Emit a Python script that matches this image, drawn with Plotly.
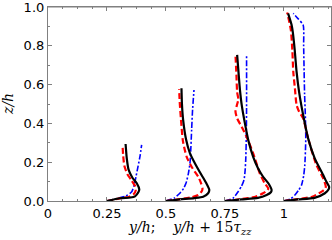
import plotly.graph_objects as go

# Station 1 (base y/h = 0.25)
s1_black_x = [0.25, 0.305, 0.35, 0.369, 0.383, 0.387, 0.377, 0.358, 0.342, 0.334, 0.329]
s1_black_z = [0.0, 0.014, 0.018, 0.024, 0.045, 0.060, 0.090, 0.120, 0.160, 0.220, 0.294]
s1_red_x = [0.25, 0.30, 0.345, 0.363, 0.372, 0.370, 0.352, 0.336, 0.324, 0.319, 0.316]
s1_red_z = [0.0, 0.012, 0.022, 0.035, 0.055, 0.075, 0.110, 0.140, 0.180, 0.230, 0.289]
s1_blue_x = [0.25, 0.29, 0.33, 0.355, 0.365, 0.373, 0.382, 0.390, 0.397]
s1_blue_z = [0.0, 0.012, 0.025, 0.048, 0.080, 0.125, 0.180, 0.230, 0.289]

# Station 2 (base 0.5)
s2_black_x = [0.5, 0.56, 0.62, 0.658, 0.679, 0.684, 0.672, 0.651, 0.625, 0.602, 0.585, 0.573, 0.568, 0.566]
s2_black_z = [0.0, 0.008, 0.015, 0.022, 0.040, 0.057, 0.090, 0.134, 0.190, 0.246, 0.320, 0.418, 0.500, 0.581]
s2_red_x = [0.5, 0.56, 0.61, 0.637, 0.652, 0.655, 0.648, 0.637, 0.612, 0.588, 0.572, 0.564, 0.559, 0.556]
s2_red_z = [0.0, 0.010, 0.020, 0.031, 0.050, 0.065, 0.095, 0.125, 0.170, 0.228, 0.310, 0.418, 0.500, 0.576]
s2_blue_x = [0.5, 0.535, 0.559, 0.575, 0.585, 0.595, 0.602, 0.606, 0.609, 0.613, 0.619]
s2_blue_z = [0.0, 0.015, 0.040, 0.065, 0.091, 0.140, 0.194, 0.280, 0.366, 0.470, 0.572]

# Station 3 (base 0.75)
s3_black_x = [0.75, 0.82, 0.89, 0.927, 0.945, 0.948, 0.935, 0.912, 0.890, 0.870, 0.850, 0.835, 0.822, 0.814, 0.808, 0.802]
s3_black_z = [0.0, 0.008, 0.016, 0.031, 0.045, 0.057, 0.090, 0.125, 0.170, 0.228, 0.310, 0.400, 0.490, 0.572, 0.660, 0.753]
s3_red_x = [0.75, 0.82, 0.88, 0.912, 0.930, 0.934, 0.919, 0.898, 0.870, 0.842, 0.821, 0.802, 0.795, 0.800, 0.807, 0.802, 0.799, 0.795]
s3_red_z = [0.0, 0.010, 0.022, 0.040, 0.055, 0.065, 0.091, 0.143, 0.246, 0.331, 0.383, 0.426, 0.460, 0.490, 0.525, 0.560, 0.650, 0.753]
s3_blue_x = [0.75, 0.785, 0.806, 0.820, 0.831, 0.836, 0.839, 0.841, 0.842, 0.842]
s3_blue_z = [0.0, 0.015, 0.048, 0.075, 0.108, 0.160, 0.228, 0.350, 0.486, 0.753]

# Station 4 (base 1.0)
s4_black_x = [1.0, 1.06, 1.13, 1.174, 1.190, 1.192, 1.180, 1.167, 1.131, 1.103, 1.082, 1.065, 1.054, 1.046, 1.038, 1.033, 1.018]
s4_black_z = [0.0, 0.008, 0.016, 0.040, 0.060, 0.074, 0.100, 0.134, 0.220, 0.323, 0.443, 0.560, 0.667, 0.780, 0.870, 0.907, 0.967]
s4_red_x = [1.0, 1.06, 1.12, 1.160, 1.175, 1.178, 1.167, 1.138, 1.103, 1.082, 1.065, 1.054, 1.047, 1.040, 1.036, 1.030, 1.022, 1.014]
s4_red_z = [0.0, 0.010, 0.022, 0.048, 0.063, 0.074, 0.117, 0.186, 0.323, 0.426, 0.460, 0.495, 0.580, 0.667, 0.780, 0.880, 0.930, 0.972]
s4_blue_x = [1.0, 1.03, 1.047, 1.062, 1.075, 1.084, 1.089, 1.093, 1.091, 1.088, 1.086, 1.084, 1.082, 1.060, 1.040]
s4_blue_z = [0.0, 0.012, 0.031, 0.055, 0.082, 0.130, 0.186, 0.323, 0.450, 0.550, 0.667, 0.800, 0.907, 0.940, 0.967]

x_tickvals = [0, 0.25, 0.5, 0.75, 1.0]
x_ticktext = ["0", "0.25", "0.5", "0.75", "1"]
y_tickvals = [0.0, 0.2, 0.4, 0.6, 0.8, 1.0]
y_ticktext = ["0.0", "0.2", "0.4", "0.6", "0.8", "1.0"]

x_title = "<i>y/h</i>;    <i>y/h</i> + 15<i>τ<sub>zz</sub></i>"
y_title = "<i>z/h</i>"

fig = go.Figure()

series = [
    (s1_blue_x, s1_blue_z, "blue"), (s1_red_x, s1_red_z, "red"), (s1_black_x, s1_black_z, "black"),
    (s2_blue_x, s2_blue_z, "blue"), (s2_red_x, s2_red_z, "red"), (s2_black_x, s2_black_z, "black"),
    (s3_blue_x, s3_blue_z, "blue"), (s3_red_x, s3_red_z, "red"), (s3_black_x, s3_black_z, "black"),
    (s4_blue_x, s4_blue_z, "blue"), (s4_red_x, s4_red_z, "red"), (s4_black_x, s4_black_z, "black"),
]
styles = {
    "black": dict(color="#000000", width=2.2, dash="solid"),
    "red": dict(color="#ff0000", width=2.2, dash="6px,3px"),
    "blue": dict(color="#0000ff", width=1.6, dash="6px,2px,2px,2px"),
}
for xs, zs, c in series:
    fig.add_trace(go.Scatter(x=xs, y=zs, mode="lines",
                             line=dict(shape="spline", smoothing=0.6, **styles[c]),
                             showlegend=False, hoverinfo="skip"))

axis_common = dict(showgrid=False, zeroline=False, showline=True, linecolor="#808080",
                   linewidth=1.2, mirror="allticks", ticks="inside", ticklen=4,
                   tickcolor="#808080", tickwidth=1, automargin=False,
                   ticklabeloverflow="allow",
                   tickfont=dict(family="DejaVu Sans", size=13, color="black"))

fig.update_xaxes(range=[0, 1.2], tickvals=x_tickvals, ticktext=x_ticktext,
                 minor=dict(ticks="inside", dtick=0.0625, tick0=0, ticklen=2, tickcolor="#808080"),
                 **axis_common)
fig.update_yaxes(range=[0, 1.0], tickvals=y_tickvals, ticktext=y_ticktext,
                 minor=dict(ticks="inside", dtick=0.1, tick0=0, ticklen=2, tickcolor="#808080"),
                 **axis_common)

fig.add_annotation(text=x_title, xref="paper", yref="paper", x=0.5, y=0, yshift=-27,
                   xanchor="center", yanchor="middle", showarrow=False,
                   font=dict(family="DejaVu Serif", size=14, color="black"))
fig.add_annotation(text=y_title, xref="paper", yref="paper", x=0, y=0.5, xshift=-40,
                   xanchor="center", yanchor="middle", showarrow=False, textangle=-90,
                   font=dict(family="DejaVu Serif", size=14, color="black"))
# frame line along the top edge of the plot area
fig.add_shape(type="line", xref="paper", yref="paper", x0=0, x1=1, y0=1, y1=1,
              line=dict(color="#808080", width=1.2))

fig.update_layout(width=332, height=240, margin=dict(l=48, r=1, t=7, b=39),
                  plot_bgcolor="white", paper_bgcolor="white")

fig.write_html("out.html", config={"displayModeBar": False},
               post_script="document.body.style.margin='0';document.body.style.overflow='hidden';")
